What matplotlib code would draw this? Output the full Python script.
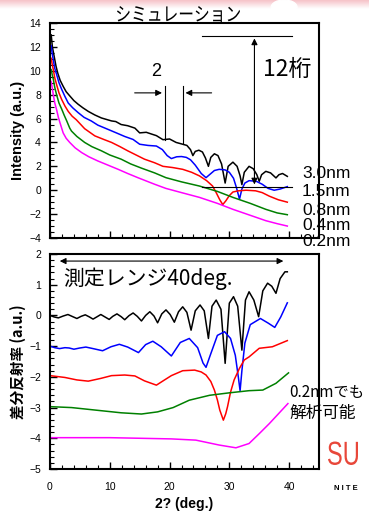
import matplotlib
matplotlib.use('Agg')
import matplotlib.pyplot as plt
import numpy as np
from matplotlib.ticker import MultipleLocator
from matplotlib.textpath import TextPath
from matplotlib.patches import PathPatch
from matplotlib.font_manager import FontProperties
from matplotlib.transforms import Affine2D, IdentityTransform

plt.rcParams['font.family'] = ['Liberation Sans', 'Noto Sans CJK JP', 'DejaVu Sans']
JP = ['Noto Sans CJK JP', 'DejaVu Sans']

# ---- シミュレーション (上段) ----
t30_x = [0.2, 0.4, 0.7, 1.0, 1.3, 1.7, 2.2, 2.7, 3.3, 4.0, 4.7, 5.5, 6.4, 7.5, 8.6, 10.3, 11.0,
         11.9, 13.0, 14.2, 15.0, 16.1, 17.0, 17.8, 18.9, 20.0, 21.1, 22.2, 22.9, 23.5, 23.9,
         24.3, 24.9, 25.5, 26.0, 26.5, 26.9, 27.5, 28.1, 28.7, 29.3, 29.8, 30.6, 31.3, 31.8,
         32.1, 32.5, 33.3, 34.0, 34.6, 35.0, 35.4, 36.1, 36.9, 37.8, 38.3, 38.9, 39.7]
t30_y = [13.0, 12.0, 11.2, 10.4, 9.8, 9.2, 8.7, 8.25, 7.9, 7.5, 7.2, 6.9, 6.6, 6.3, 6.05, 5.8, 5.75,
         5.5, 5.4, 5.2, 4.8, 4.85, 4.7, 4.57, 4.23, 4.29, 4.0, 3.85, 3.75, 3.4, 2.9,
         3.25, 3.35, 3.2, 2.7, 2.0, 2.75, 3.05, 2.9, 2.2, 0.6, 2.0, 2.35, 2.0, 1.2,
         0.47, 1.5, 2.0, 1.8, 1.3, 0.75, 1.3, 1.58, 1.45, 1.03, 1.3, 1.4, 1.16]
t15_x = [0.2, 0.35, 0.55, 0.8, 1.1, 1.5, 1.95, 2.5, 3.05, 3.8, 4.7, 5.7, 6.9, 8.0, 9.2, 11.1,
         12.5, 13.9, 15.0, 16.4, 17.8, 18.8, 19.6, 20.3, 21.2, 22.0, 22.8, 23.5, 24.3, 25.3,
         26.1, 26.8, 27.5, 28.3, 29.3, 30.0, 30.7, 31.2, 31.7, 32.1, 32.6, 33.3, 34.5, 35.5,
         36.5, 37.5, 38.5, 39.7]
t15_y = [12.1, 11.5, 10.9, 10.2, 9.7, 9.0, 8.45, 7.85, 7.3, 6.9, 6.5, 6.1, 5.8, 5.45, 5.2, 4.8,
         4.5, 4.25, 3.85, 3.75, 3.7, 3.4, 2.9, 2.65, 2.8, 2.82, 2.75, 2.55, 2.1, 1.4,
         1.05, 1.35, 1.65, 1.75, 1.7, 1.5, 1.0, 0.2, -0.75, 0.1, 0.6, 0.8, 0.75, 0.5,
         0.15, 0.0, 0.1, 0.3]
t08_x = [0.2, 0.35, 0.55, 0.8, 1.1, 1.5, 1.95, 2.5, 3.05, 3.7, 4.4, 5.8, 7.5, 9.0, 10.3, 11.7,
         13.0, 14.4, 15.8, 17.5, 18.9, 20.5, 22.2, 23.7, 25.0, 26.2, 27.2, 27.8, 28.4, 28.9,
         29.4, 30.0, 30.6, 31.5, 32.8, 34.4, 35.5, 36.7, 38.2, 39.7]
t08_y = [11.05, 10.6, 10.1, 9.4, 8.85, 8.15, 7.6, 7.05, 6.6, 6.2, 5.9, 5.15, 4.55, 4.25, 4.0, 3.65,
         3.3, 2.95, 2.6, 2.3, 2.0, 1.9, 1.75, 1.5, 1.2, 0.8, 0.35, -0.2, -0.8, -1.2,
         -0.9, -0.45, -0.15, -0.05, 0.0, -0.05, -0.2, -0.5, -0.8, -1.0]
t04_x = [0.2, 0.4, 0.55, 0.8, 1.1, 1.5, 1.95, 2.4, 2.8, 3.3, 3.6, 4.5, 5.8, 7.0, 8.6, 10.0, 11.9,
         13.5, 15.3, 17.5, 19.4, 22.0, 25.0, 28.0, 30.6, 33.5, 36.1, 38.0, 39.7]
t04_y = [10.1, 9.6, 9.3, 8.6, 8.0, 7.3, 6.8, 6.25, 5.8, 5.2, 4.95, 4.5, 4.0, 3.65, 3.3, 2.95, 2.6,
         2.2, 1.85, 1.45, 1.05, 0.7, 0.35, -0.1, -0.6, -1.1, -1.6, -1.9, -2.05]
t02_x = [0.2, 0.4, 0.55, 0.8, 1.1, 1.4, 1.7, 2.2, 2.7, 3.3, 4.2, 5.3, 6.5, 8.0, 9.7, 11.4, 13.0,
         14.7, 17.5, 19.4, 22.0, 25.0, 28.0, 30.6, 33.5, 36.1, 38.0, 39.7]
t02_y = [9.1, 8.5, 8.0, 7.3, 6.75, 6.1, 5.6, 4.8, 4.35, 4.0, 3.55, 3.15, 2.8, 2.45, 2.1, 1.75, 1.4,
         1.05, 0.5, 0.15, -0.2, -0.6, -1.1, -1.6, -2.1, -2.55, -2.8, -3.0]

# ---- 差分反射率 (下段) ----
d30_x = [0.0, 0.7, 1.4, 2.2, 3.0, 3.8, 4.5, 5.2, 5.9, 6.6, 7.2, 7.9, 8.5, 9.2, 9.9, 10.5, 11.2,
         11.9, 12.5, 13.2, 13.9, 14.6, 15.3, 16.0, 16.7, 17.4, 18.0, 18.7, 19.4, 20.1, 20.8,
         21.5, 22.2, 22.9, 23.6, 24.3, 25.1, 25.8, 26.5, 27.1, 27.8, 28.6, 29.3, 30.0, 30.7,
         31.4, 32.1, 32.7, 33.3, 34.1, 34.9, 35.6, 36.4, 37.1, 37.8, 38.5, 39.3, 39.7]
d30_y = [0.0, -0.05, -0.08, -0.02, 0.03, -0.04, -0.1, -0.03, 0.02, -0.05, -0.12, -0.04, 0.03,
         -0.05, -0.13, -0.03, 0.05, -0.04, -0.14, -0.01, 0.08, -0.03, -0.18, 0.0, 0.12, -0.02,
         -0.24, 0.05, 0.18, 0.03, -0.22, 0.12, 0.28, 0.1, -0.48, 0.15, 0.34, 0.15, -0.75, 0.3,
         0.5, 0.2, -1.56, 0.4, 0.61, 0.3, -1.13, 0.5, 0.77, 0.5, -0.04, 0.8, 1.05, 0.95, 0.72,
         1.2, 1.42, 1.42]
d15_x = [0.0, 0.8, 1.6, 2.5, 3.2, 4.0, 5.0, 6.0, 7.2, 8.8, 10.2, 11.6, 13.0, 14.8, 16.0, 17.2,
         18.6, 20.3, 21.8, 23.3, 24.7, 25.6, 26.1, 26.8, 28.0, 29.2, 30.2, 31.0, 31.5, 31.8,
         32.1, 32.6, 33.5, 35.2, 36.5, 37.6, 38.6, 39.7]
d15_y = [-1.0, -1.05, -1.08, -1.05, -1.06, -1.1, -1.06, -1.03, -1.08, -1.15, -1.02, -0.94, -1.03,
         -1.21, -0.95, -0.84, -1.02, -1.32, -0.88, -0.75, -1.05, -1.55, -1.69, -1.3, -0.65,
         -0.53, -0.75, -1.3, -2.0, -2.45, -1.8, -0.9, -0.3, -0.1, -0.25, -0.39, -0.05, 0.41]
d08_x = [0.0, 2.5, 4.5, 6.4, 8.5, 10.3, 12.5, 14.2, 15.8, 17.8, 19.0, 20.3, 22.2, 24.2, 25.3,
         26.1, 26.9, 27.5, 28.0, 28.4, 29.0, 29.4, 29.7, 30.2, 30.8, 31.7, 32.5, 33.3, 35.0,
         37.2, 39.7]
d08_y = [-1.96, -2.02, -2.1, -2.14, -2.05, -1.96, -1.94, -1.97, -2.13, -2.27, -2.12, -1.96, -1.8,
         -1.78, -1.84, -1.94, -2.15, -2.43, -2.75, -3.08, -3.41, -3.2, -2.97, -2.5, -2.1, -1.72,
         -1.45, -1.35, -1.07, -1.02, -0.82]
d04_x = [0.0, 3.6, 7.5, 11.9, 15.3, 18.0, 20.6, 23.3, 26.7, 30.0, 33.3, 35.6, 37.8, 39.9]
d04_y = [-2.97, -3.0, -3.08, -3.17, -3.21, -3.14, -3.0, -2.76, -2.6, -2.52, -2.45, -2.43, -2.21, -1.87]
d02_x = [0.0, 10.0, 20.3, 24.4, 28.3, 31.1, 33.3, 35.0, 36.7, 39.8]
d02_y = [-3.98, -3.98, -4.02, -4.06, -4.22, -4.31, -4.17, -3.85, -3.52, -2.87]

thick_labels = ['3.0nm', '1.5nm', '0.8nm', '0.4nm', '0.2nm']
colors = ['black', 'blue', 'red', 'green', 'magenta']

W, H = 369, 512
fig = plt.figure(figsize=(W / 100, H / 100), dpi=100)

def px(x, y):
    return x / W, 1 - y / H

def squeezed(text, family, left, top, width, height, color='black'):
    # 幅と高さを指定して文字を描く (ピクセル座標、左上基準)
    tp = TextPath((0, 0), text, size=32, prop=FontProperties(family=family))
    bb = tp.get_extents()
    tr = (Affine2D().translate(-bb.x0, -bb.y0)
          .scale(width / bb.width, height / bb.height)
          .translate(left, H - top - height))
    fig.patches.append(PathPatch(tr.transform_path(tp), color=color, lw=0,
                                 transform=IdentityTransform(), figure=fig))

# 上端のピンクの帯
band = fig.add_axes([0, 1 - 9 / H, 1, 9 / H])
grad = np.linspace(1, 0, 20).reshape(-1, 1)
band.imshow(grad, aspect='auto', cmap=matplotlib.colors.LinearSegmentedColormap.from_list(
    'p', ['white', '#f6c3c9']), extent=[0, 1, 0, 1])
band.add_patch(matplotlib.patches.Ellipse((0.77, 0.2), 0.07, 1.6, color='white'))
band.set_xlim(0, 1)
band.set_ylim(0, 1)
band.axis('off')

ax1 = fig.add_axes([50 / W, 1 - 238 / H, 269 / W, 215 / H])
ax2 = fig.add_axes([50 / W, 1 - 469 / H, 269 / W, 215 / H])

top = [(t30_x, t30_y), (t15_x, t15_y), (t08_x, t08_y), (t04_x, t04_y), (t02_x, t02_y)]
bot = [(d30_x, d30_y), (d15_x, d15_y), (d08_x, d08_y), (d04_x, d04_y), (d02_x, d02_y)]
for (x, y), c in zip(top, colors):
    ax1.plot(x, y, color=c, lw=1.1)
for (x, y), c in zip(bot, colors):
    ax2.plot(x, y, color=c, lw=1.1)

for ax in (ax1, ax2):
    ax.set_xlim(0, 45)
    ax.xaxis.set_major_locator(MultipleLocator(10))
    ax.xaxis.set_minor_locator(MultipleLocator(2))
    ax.tick_params(which='both', direction='in', top=False, right=False, labelsize=7.5)
    ax.tick_params(which='major', length=5, width=1)
    ax.tick_params(which='minor', length=3, width=0.8)
    ax.tick_params(axis='y', pad=6.5)
    ax.tick_params(axis='x', pad=9)
    for s in ax.spines.values():
        s.set_linewidth(1.5)

ax1.set_ylim(-4, 14)
ax1.yaxis.set_major_locator(MultipleLocator(2))
ax1.yaxis.set_minor_locator(MultipleLocator(0.5))
ax1.tick_params(labelbottom=False)
ax1.set_ylabel('Intensity (a.u.)', fontsize=10.5, fontweight='bold', labelpad=3)

ax2.set_ylim(-5, 2)
ax2.yaxis.set_major_locator(MultipleLocator(1))
ax2.yaxis.set_minor_locator(MultipleLocator(0.2))
ax2.set_ylabel('差分反射率 (a.u.)', fontsize=10.5, fontweight='bold', family=JP, labelpad=2)
ax2.set_xlabel('2? (deg.)', fontsize=10, fontweight='bold', labelpad=4)

# 上段の注記
ax1.text(17.8, 9.9, '2', fontsize=13, ha='center', va='center')
ap = dict(arrowstyle='-|>', color='black', lw=0.8, mutation_scale=9)
ax1.annotate('', xy=(19.2, 8.15), xytext=(13.7, 8.15), arrowprops=ap)
ax1.annotate('', xy=(22.2, 8.15), xytext=(27.5, 8.15), arrowprops=ap)
ax1.plot([19.2, 19.2], [8.75, 4.2], color='black', lw=0.8)
ax1.plot([22.2, 22.2], [8.75, 3.85], color='black', lw=0.8)
ax1.plot([25.5, 40.5], [12.94, 12.94], color='black', lw=0.8)
ax1.plot([25.5, 40.5], [0.25, 0.25], color='black', lw=0.8)
ax1.annotate('', xy=(34.2, 12.94), xytext=(34.2, 0.25),
             arrowprops=dict(arrowstyle='<|-|>', color='black', lw=0.8, mutation_scale=9))
ax1.text(39.6, 10.1, '12桁', fontsize=16.5, ha='center', va='center', family=JP)

squeezed('シミュレーション', 'Noto Sans CJK JP', 117, 6, 123, 16)
for lab, yy in zip(thick_labels, [173, 191, 210.7, 226, 241.7]):
    fig.text(*px(302, yy), lab, fontsize=12.5, ha='left', va='center')

# 下段の注記
ax2.annotate('', xy=(1.17, 1.77), xytext=(39.5, 1.77),
             arrowprops=dict(arrowstyle='<|-|>', color='black', lw=0.8, mutation_scale=9))
fig.text(*px(63, 279), '測定レンジ40deg.', fontsize=15, ha='left', va='center', family=JP)
fig.text(*px(289, 392), '0.2nmでも', fontsize=11, ha='left', va='center', family=JP)
fig.text(*px(289, 413), '解析可能', fontsize=12, ha='left', va='center', family=JP)

# ロゴ (縦長の SU)
squeezed('SU', 'Liberation Sans', 328, 441.5, 30, 23.5, color='#e8473a')
fig.text(*px(346, 488), 'N I T E', fontsize=5.5, fontweight='bold', ha='center', va='center')

fig.savefig('out.png', dpi=100)
